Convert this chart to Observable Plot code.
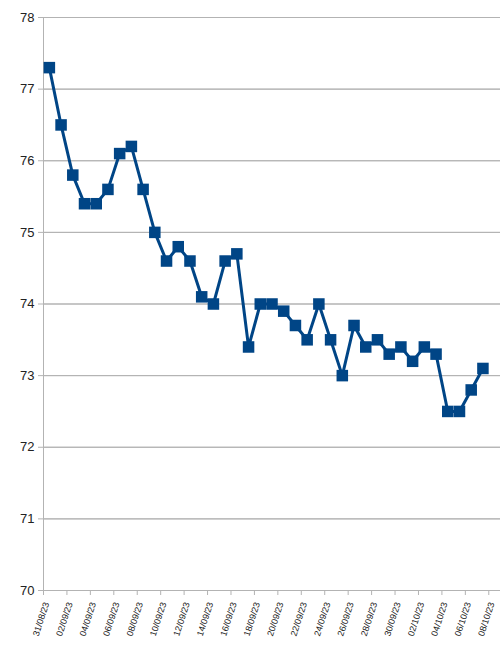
<!DOCTYPE html>
<html>
<head>
<meta charset="utf-8">
<script src="https://cdn.jsdelivr.net/npm/d3@7"></script>
<script src="https://cdn.jsdelivr.net/npm/@observablehq/plot@0.6"></script>
<style>
  html, body { margin: 0; padding: 0; background: #fff; }
  #chart svg { display: block; }
</style>
</head>
<body>
<div id="chart"></div>
<script>
// Dates 31/08/23 .. 08/10/23 (category axis, last category has no value)
const dates = ["31/08/23","01/09/23","02/09/23","03/09/23","04/09/23","05/09/23","06/09/23","07/09/23","08/09/23","09/09/23",
  "10/09/23","11/09/23","12/09/23","13/09/23","14/09/23","15/09/23","16/09/23","17/09/23","18/09/23","19/09/23",
  "20/09/23","21/09/23","22/09/23","23/09/23","24/09/23","25/09/23","26/09/23","27/09/23","28/09/23","29/09/23",
  "30/09/23","01/10/23","02/10/23","03/10/23","04/10/23","05/10/23","06/10/23","07/10/23","08/10/23"];
const values = [77.3,76.5,75.8,75.4,75.4,75.6,76.1,76.2,75.6,75.0,
  74.6,74.8,74.6,74.1,74.0,74.6,74.7,73.4,74.0,74.0,
  73.9,73.7,73.5,74.0,73.5,73.0,73.7,73.4,73.5,73.3,
  73.4,73.2,73.4,73.3,72.5,72.5,72.8,73.1];
const yTicks = [70,71,72,73,74,75,76,77,78];
const tickLabels = dates.filter((d, i) => i % 2 === 0);

const data = values.map((v, i) => ({i, date: dates[i], v}));
const labelData = tickLabels.map(d => ({pos: dates.indexOf(d) - 0.5, label: d}));
const n = dates.length;

const grid = "#b3b3b3";
const blue = "#004586";

const chart = Plot.plot({
  width: 500,
  height: 647,
  marginLeft: 43,
  marginRight: 0,
  marginTop: 17,
  marginBottom: 57,
  style: {fontFamily: "'Liberation Sans', Arial, sans-serif", background: "#fff", color: "#222"},
  x: {domain: [-0.5, n - 0.5], axis: null},
  y: {domain: [70, 78], axis: null},
  marks: [
    Plot.ruleY(yTicks, {stroke: grid, strokeWidth: 1}),
    Plot.tickY(yTicks, {y: d => d, x1: -0.5, dx: 0, stroke: grid}),
    Plot.axisY({ticks: yTicks, tickSize: 5, tickPadding: 4, stroke: grid, fontSize: 13, fill: "#222", tickFormat: d => String(d), label: null}),
    Plot.ruleX([-0.5], {stroke: grid, strokeWidth: 1}),
    Plot.axisX({ticks: labelData.map(d => d.pos), tickSize: 5, tickPadding: 0, stroke: grid, tickFormat: () => "", label: null}),
    Plot.text(labelData, {x: "pos", y: 70, text: "label", rotate: -72, textAnchor: "end", dx: 3, dy: 12, fontSize: 9, fill: "#222"}),
    Plot.line(data, {x: "i", y: "v", stroke: blue, strokeWidth: 3}),
    Plot.dot(data, {x: "i", y: "v", symbol: "square", r: 6.5, fill: blue, stroke: "none"})
  ]
});
document.getElementById("chart").append(chart);
</script>
</body>
</html>
